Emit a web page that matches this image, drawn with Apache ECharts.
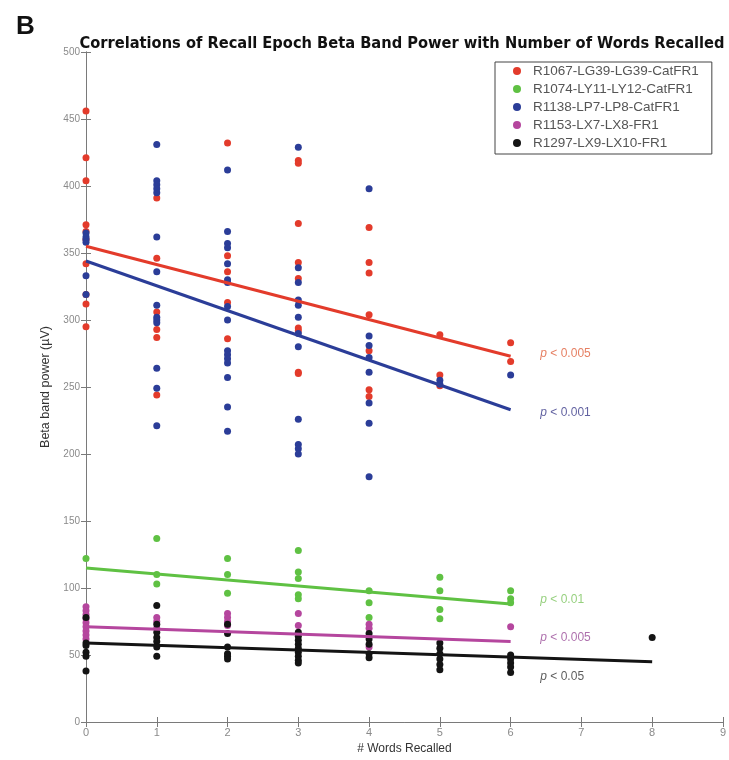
<!DOCTYPE html>
<html>
<head>
<meta charset="utf-8">
<script src="https://cdn.jsdelivr.net/npm/echarts@6/dist/echarts.min.js"></script>
<style>html,body{margin:0;padding:0;background:#fff}#c{width:729px;height:760px}</style>
</head>
<body>
<div id="c"></div>
<script>
// ---- data ----
const seriesNames = ['R1067-LG39-LG39-CatFR1','R1074-LY11-LY12-CatFR1','R1138-LP7-LP8-CatFR1','R1153-LX7-LX8-FR1','R1297-LX9-LX10-FR1'];
const xTicks = [0,1,2,3,4,5,6,7,8,9];
const yTicks = [0,50,100,150,200,250,300,350,400,450,500];

const r1067 = [
  [0,456],[0,421],[0,404],[0,371],[0,366],[0,360],[0,342],[0,319],[0,312],[0,295],
  [1,391],[1,346],[1,306],[1,293],[1,287],[1,244],
  [2,432],[2,348],[2,336],[2,313],[2,286],
  [3,419],[3,417],[3,372],[3,343],[3,331],[3,294],[3,292],[3,261],[3,260],
  [4,369],[4,343],[4,335],[4,304],[4,277],[4,248],[4,243],
  [5,289],[5,259],[5,251],
  [6,283],[6,269]
];
const r1074 = [
  [0,122],
  [1,137],[1,110],[1,103],
  [2,122],[2,110],[2,96],
  [3,128],[3,112],[3,107],[3,95],[3,92],
  [4,98],[4,89],[4,78],
  [5,108],[5,98],[5,84],[5,77],
  [6,98],[6,92],[6,89]
];
const r1138 = [
  [0,365],[0,362],[0,360],[0,358],[0,333],[0,319],
  [1,431],[1,404],[1,401],[1,398],[1,395],[1,362],[1,336],[1,311],[1,302],[1,300],[1,298],[1,264],[1,249],[1,221],
  [2,412],[2,366],[2,357],[2,354],[2,342],[2,330],[2,328],[2,310],[2,300],[2,277],[2,274],[2,271],[2,268],[2,257],[2,235],[2,217],
  [3,429],[3,339],[3,328],[3,315],[3,311],[3,302],[3,290],[3,280],[3,226],[3,207],[3,204],[3,200],
  [4,398],[4,288],[4,281],[4,272],[4,261],[4,238],[4,223],[4,183],
  [5,255],[5,252],
  [6,259]
];
const r1153 = [
  [0,86],[0,83],[0,80],[0,77],[0,74],[0,71],[0,68],[0,65],[0,62],
  [1,78],[1,75],[1,70],
  [2,81],[2,78],[2,75],[2,72],
  [3,81],[3,72],
  [4,73],[4,70],[4,56],
  [6,71]
];
const r1297 = [
  [0,78],[0,59],[0,57],[0,52],[0,49],[0,38],
  [1,87],[1,73],[1,67],[1,63],[1,60],[1,56],[1,49],
  [2,73],[2,66],[2,56],[2,51],[2,49],[2,47],
  [3,67],[3,64],[3,61],[3,58],[3,55],[3,52],[3,49],[3,46],[3,44],
  [4,66],[4,62],[4,58],[4,51],[4,48],
  [5,59],[5,55],[5,51],[5,47],[5,43],[5,39],
  [6,50],[6,47],[6,44],[6,41],[6,37],
  [8,63]
];
// regression line end points
const fitR1067 = [[0,355],[6,273]];
const fitR1074 = [[0,115],[6,88]];
const fitR1138 = [[0,344],[6,233]];
const fitR1153 = [[0,71],[6,60]];
const fitR1297 = [[0,59],[8,45]];
// p-value annotations
const pTexts = ['0.005','0.01','0.001','0.005','0.05'];
const pLabelY = [275, 91, 231, 63, 34];
const pLabelX = 6.42;

// ---- styling ----
const colors = ['#e33b2b','#5fc143','#2b3d98','#b5469e','#141414'];
const pColors = ['#e0603c','#7cc45e','#3a3a88','#9a4c98','#333333'];
const fits = [fitR1067, fitR1074, fitR1138, fitR1153, fitR1297];
const pts = [r1067, r1074, r1138, r1153, r1297];
const FONT = '"Liberation Sans", Arial, sans-serif';

const series = [];
[0,1,2,3,4].forEach(i => {
  series.push({
    name: seriesNames[i], type: 'scatter', data: pts[i],
    symbol: 'circle', symbolSize: 7,
    itemStyle: { color: colors[i], opacity: 1 },
    z: 2 + i
  });
});
[0,1,2,3,4].forEach(i => {
  series.push({
    type: 'line', data: fits[i], showSymbol: false, symbol: 'none',
    lineStyle: { color: colors[i], width: 3 }, z: 10 + i, silent: true
  });
});
[0,1,2,3,4].forEach(i => {
  series.push({
    type: 'scatter', symbolSize: 0, silent: true, z: 20,
    data: [[pLabelX, pLabelY[i]]],
    label: {
      show: true, position: 'right', distance: 0,
      formatter: '{p|p} < ' + pTexts[i],
      color: pColors[i], fontSize: 12, fontFamily: FONT,
      rich: { p: { fontStyle: 'italic', fontSize: 12, color: pColors[i], fontFamily: FONT } }
    }
  });
});

const axisColor = '#7a7a7a';
const chart = echarts.init(document.getElementById('c'), null, { renderer: 'canvas' });
chart.setOption({
  backgroundColor: '#fff',
  animation: false,
  title: [
    { text: 'B', left: 11, top: 9, textStyle: { fontSize: 26, fontWeight: 'bold', color: '#111', fontFamily: FONT } },
    { text: 'Correlations of Recall Epoch Beta Band Power with Number of Words Recalled',
      left: 397, textAlign: 'center', top: 31,
      textStyle: { fontSize: 16.3, fontWeight: 'bold', color: '#111', fontFamily: '"Liberation Sans Narrow", "DejaVu Sans Condensed", Arial, sans-serif' } }
  ],
  legend: {
    data: seriesNames, orient: 'vertical', left: 495, top: 62,
    padding: [2, 13, 4, 18], itemGap: 4,
    itemWidth: 8, itemHeight: 8, icon: 'circle',
    borderColor: '#444', borderWidth: 1, backgroundColor: '#fff',
    textStyle: { color: '#555', fontSize: 13.5, fontFamily: FONT, padding: [0,0,0,7] }
  },
  grid: { left: 86, right: 4, top: 52, bottom: 38, containLabel: false },
  xAxis: [
    { type: 'value', min: 0, max: 9, interval: 1, position: 'bottom',
      name: '# Words Recalled', nameLocation: 'middle', nameGap: 20,
      nameTextStyle: { color: '#333', fontSize: 12, fontFamily: FONT },
      axisLine: { show: true, lineStyle: { color: axisColor, width: 1 } },
      axisTick: { show: true, inside: true, length: 5, lineStyle: { color: axisColor } },
      axisLabel: { color: '#8a8a8a', fontSize: 11, margin: 5, fontFamily: FONT },
      splitLine: { show: false } },
    { type: 'value', min: 0, max: 9, interval: 1, position: 'top',
      axisLine: { show: true, lineStyle: { color: axisColor, width: 1 } },
      axisTick: { show: true, inside: true, length: 5, lineStyle: { color: axisColor } },
      axisLabel: { show: false }, splitLine: { show: false } }
  ],
  yAxis: [
    { type: 'value', min: 0, max: 500, interval: 50, position: 'left',
      name: 'Beta band power (\u00b5V)', nameLocation: 'middle', nameGap: 27,
      nameTextStyle: { color: '#333', fontSize: 12.5, fontFamily: FONT },
      axisLine: { show: true, lineStyle: { color: axisColor, width: 1 } },
      axisTick: { show: true, inside: true, length: 5, lineStyle: { color: axisColor } },
      axisLabel: { color: '#8a8a8a', fontSize: 10, margin: 6, fontFamily: FONT },
      splitLine: { show: false } },
    { type: 'value', min: 0, max: 500, interval: 50, position: 'right',
      axisLine: { show: true, lineStyle: { color: axisColor, width: 1 } },
      axisTick: { show: true, inside: true, length: 5, lineStyle: { color: axisColor } },
      axisLabel: { show: false }, splitLine: { show: false } }
  ],
  series: series
});
</script>
</body>
</html>
